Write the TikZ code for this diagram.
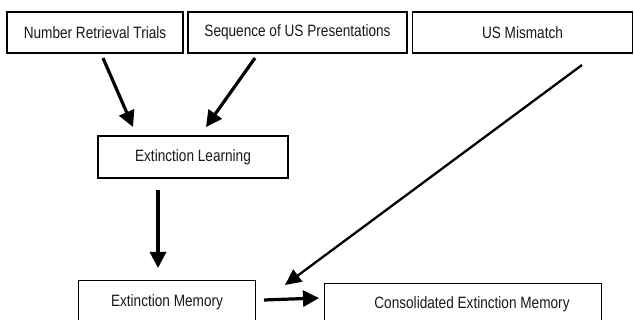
\documentclass[tikz,border=0pt]{standalone}
\usepackage{fontspec}
\usepackage{graphicx}
\setmainfont{Liberation Sans}
\usetikzlibrary{arrows.meta}
% slightly condensed, tall lettering for the box labels
\newcommand{\boxlabel}[1]{\scalebox{0.83}[1]{#1}}
\begin{document}
\begin{tikzpicture}[x=1pt,y=-1pt,
  label text/.style={font=\fontsize{16.4}{18}\selectfont, text=black!90},
  box/.style={draw=black, line width=1.4pt, inner sep=0pt, label text},
  bigarrow/.style={line width=3.2pt, -{Triangle[length=16pt,width=16pt]}},
  thinarrow/.style={line width=2.3pt, -{Triangle[length=16pt,width=15pt]}}]
\useasboundingbox[fill=white] (0,0) rectangle (634,320);
\clip (0,0) rectangle (634,320);
% top row of factors
\node[box, minimum width=176pt, minimum height=41pt] (trials) at (95,32.5) {\boxlabel{Number Retrieval Trials}};
\node[box, minimum width=219pt, minimum height=41pt] (seq) at (297.5,32.5) {\boxlabel{Sequence of US Presentations}};
\node[box, minimum width=220pt, minimum height=41pt] (mismatch) at (522.5,32.5) {\boxlabel{US Mismatch}};
% learning stage
\node[box, minimum width=190pt, minimum height=42pt] (learn) at (193,157) {\boxlabel{Extinction Learning}};
% memory stage, boxes run past the lower edge
\node[box, minimum width=177pt, minimum height=60pt, anchor=north west] (mem) at (78,280) {};
\node[label text] (memtext) at (167,302) {\boxlabel{Extinction Memory}};
\node[box, minimum width=277pt, minimum height=60pt, anchor=north west] (cons) at (324,283) {};
\node[label text] (constext) at (472,304) {\boxlabel{Consolidated Extinction Memory}};
% arrow end points
\coordinate (a1s) at (103,58);
\coordinate (a1e) at (133,127);
\coordinate (a2s) at (255,58);
\coordinate (a2e) at (206,127);
\coordinate (a3s) at (158,190);
\coordinate (a3e) at (158,268);
\coordinate (a4s) at (582,65);
\coordinate (a4e) at (285,285);
\coordinate (a5s) at (264,300);
\coordinate (a5e) at (319,298);
\draw[bigarrow] (a1s) -- (a1e);
\draw[bigarrow] (a2s) -- (a2e);
\draw[bigarrow] (a3s) -- (a3e);
\draw[thinarrow] (a4s) -- (a4e);
\draw[bigarrow] (a5s) -- (a5e);
\end{tikzpicture}
\end{document}
